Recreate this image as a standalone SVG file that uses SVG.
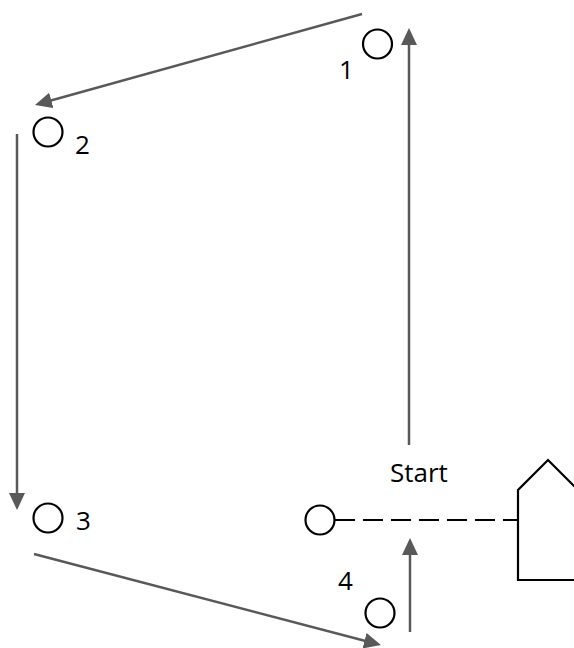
<svg xmlns="http://www.w3.org/2000/svg" width="574" height="648" viewBox="0 0 574 648">
<style>
.node circle{fill:#fff;stroke:#000;stroke-width:2.2}
.lbl{font-family:"Open Sans","Liberation Sans",sans-serif;font-size:26px;fill:#000}
.arr{stroke:#595959;stroke-width:2.5;fill:none;marker-end:url(#ah)}
.path{stroke:#000;stroke-width:2.2;fill:none}
</style>
<defs>
<marker id="ah" markerUnits="userSpaceOnUse" markerWidth="17" markerHeight="16" refX="7" refY="8" orient="auto">
<path d="M0,0 L17,8 L0,16 z" fill="#595959"/>
</marker>
</defs>
<rect width="574" height="648" fill="#fff"/>
<g id="connectors">
<line class="arr" x1="409" y1="445" x2="409" y2="38"/>
<line class="arr" x1="362" y1="14" x2="44.6" y2="102.3"/>
<line class="arr" x1="17" y1="134" x2="17" y2="500"/>
<line class="arr" x1="34" y1="554" x2="371.3" y2="642.5"/>
<line class="arr" x1="410" y1="632" x2="410" y2="548"/>
<line class="path" x1="335" y1="520" x2="518" y2="520" stroke-dasharray="20,8"/>
</g>
<g id="house">
<polygon class="path" points="518,580 518,490 548,460 578,490 578,580"/>
</g>
<g id="node-start" class="node">
<circle cx="320" cy="520" r="14.5"/>
<text class="lbl" x="390" y="482">Start</text>
</g>
<g id="node-1" class="node">
<circle cx="377.5" cy="44" r="14.5"/>
<text class="lbl" x="339" y="79">1</text>
</g>
<g id="node-2" class="node">
<circle cx="48" cy="132" r="14.5"/>
<text class="lbl" x="75" y="154">2</text>
</g>
<g id="node-3" class="node">
<circle cx="48" cy="518" r="14.5"/>
<text class="lbl" x="76" y="530">3</text>
</g>
<g id="node-4" class="node">
<circle cx="380" cy="613" r="14.5"/>
<text class="lbl" x="338" y="590">4</text>
</g>
</svg>
